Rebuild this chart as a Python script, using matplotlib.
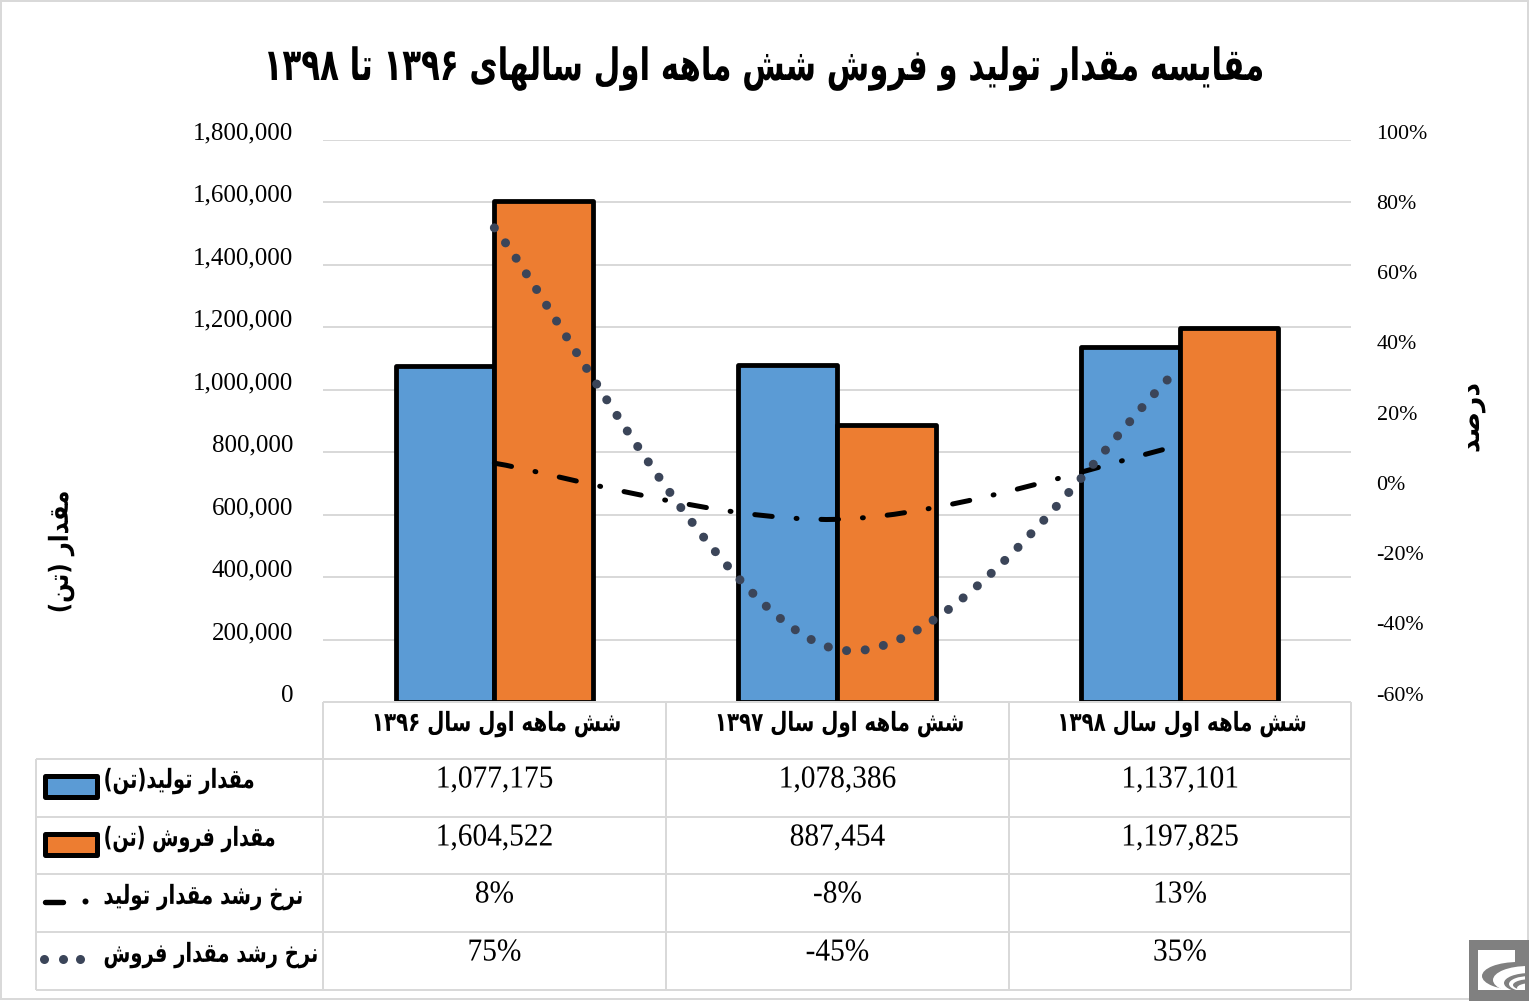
import math
import matplotlib
matplotlib.use("Agg")
import matplotlib.pyplot as plt
from matplotlib.path import Path
from matplotlib.patches import PathPatch, Rectangle, Ellipse
from matplotlib.patheffects import AbstractPathEffect
from matplotlib.transforms import ScaledTranslation, Affine2D

plt.rcParams['lines.scale_dashes'] = False
AR_FONT = ['DejaVu Sans']
NUM_FONT = ['Liberation Serif']

# ---------- data ----------
title = "مقایسه مقدار تولید و فروش شش ماهه اول سالهای ۱۳۹۶ تا ۱۳۹۸"
categories = ["شش ماهه اول سال ۱۳۹۶", "شش ماهه اول سال ۱۳۹۷", "شش ماهه اول سال ۱۳۹۸"]
production = [1077175, 1078386, 1137101]
sales = [1604522, 887454, 1197825]
production_growth = [8, -8, 13]
sales_growth = [75, -45, 35]
series_names = ["مقدار تولید(تن)", "مقدار فروش (تن)", "نرخ رشد مقدار تولید", "نرخ رشد مقدار فروش"]
left_label = "مقدار (تن)"
right_label = "درصد"
left_ticks = [0, 200000, 400000, 600000, 800000, 1000000, 1200000, 1400000, 1600000, 1800000]
right_ticks = [-60, -40, -20, 0, 20, 40, 60, 80, 100]

# ---------- minimal Persian shaping (matplotlib draws no contextual forms) ----------
FORMS = {  # isolated, final, initial, medial
    'ا': 'ﺍﺎ', 'د': 'ﺩﺪ', 'ر': 'ﺭﺮ', 'و': 'ﻭﻮ',
    'م': 'ﻡﻢﻣﻤ', 'ق': 'ﻕﻖﻗﻘ', 'ت': 'ﺕﺖﺗﺘ', 'ل': 'ﻝﻞﻟﻠ',
    'ی': '\uFBFC\uFBFD\uFBFE\uFBFF', 'ف': 'ﻑﻒﻓﻔ', 'ش': 'ﺵﺶﺷﺸ', 'ه': 'ﻩﻪﻫﻬ',
    'س': 'ﺱﺲﺳﺴ', 'ن': 'ﻥﻦﻧﻨ', 'خ': 'ﺥﺦﺧﺨ', 'ص': 'ﺹﺺﺻﺼ',
}
MIRROR = {'(': ')', ')': '('}
DIGITS = set('۰۱۲۳۴۵۶۷۸۹')


def shape(s):
    out = []
    for i, c in enumerate(s):
        if c not in FORMS:
            out.append(c)
            continue
        prev = s[i - 1] if i else ''
        nxt = s[i + 1] if i + 1 < len(s) else ''
        joins_prev = prev in FORMS and len(FORMS[prev]) == 4
        joins_next = nxt in FORMS and len(FORMS[c]) == 4
        f = FORMS[c]
        if joins_prev and joins_next:
            out.append(f[3])
        elif joins_prev:
            out.append(f[1])
        elif joins_next:
            out.append(f[2])
        else:
            out.append(f[0])
    # visual order: reverse everything, keep digit runs left to right
    runs, cur = [], ''
    for c in out:
        if c in DIGITS:
            cur += c
        else:
            if cur:
                runs.append(cur)
                cur = ''
            runs.append(MIRROR.get(c, c))
    if cur:
        runs.append(cur)
    return ''.join(reversed(runs))


class Condense(AbstractPathEffect):
    """Narrow the drawn glyphs along the text baseline (the reference face is condensed)."""

    def __init__(self, factor=None, width=None, anchor='center'):
        super().__init__()
        self.factor, self.width, self.anchor = factor, width, anchor

    def draw_path(self, renderer, gc, tpath, affine, rgbFace=None):
        ext = tpath.get_extents()
        m = affine.get_matrix()
        scale = math.hypot(m[0, 0], m[1, 0])
        sx = self.factor if self.factor else self.width / (ext.width * scale)
        a = ext.x0 if self.anchor == 'left' else (ext.x0 + ext.x1) / 2
        t = Affine2D().translate(-a, 0).scale(sx, 1).translate(a, 0) + affine
        renderer.draw_path(gc, tpath, t, rgbFace)


W, H = 1529, 1001
fig = plt.figure(figsize=(W / 100, H / 100), dpi=100, facecolor='white')
PX = 72 / 100  # points per pixel

L, R, T, B = 323, 1351, 140, 702
GRID = '#D9D9D9'
ax = fig.add_axes([L / W, 1 - B / H, (R - L) / W, (B - T) / H])
ax2 = ax.twinx()
ax2.set_zorder(ax.get_zorder() + 1)
ax2.patch.set_visible(False)

x = list(range(len(categories)))
bw = 0.2875
ax.bar([i - bw / 2 for i in x], production, bw, color='#5B9BD5', edgecolor='black',
       linewidth=4.8 * PX, joinstyle='round', zorder=3)
ax.bar([i + bw / 2 for i in x], sales, bw, color='#ED7D31', edgecolor='black',
       linewidth=4.8 * PX, joinstyle='round', zorder=3)
ax.set_xlim(-0.5, 2.5)
ax.set_ylim(0, 1800000)
ax.set_xticks([])
ax.set_yticks(left_ticks)
ax.set_yticklabels([f"{v:,}" for v in left_ticks], family=NUM_FONT, fontsize=18)
ax.tick_params(axis='y', length=0, pad=30 * PX)
ax.grid(axis='y', color=GRID, linewidth=2 * PX, zorder=0)
ax.set_axisbelow(True)

ax2.set_ylim(-60, 100)
ax2.set_yticks(right_ticks)
ax2.set_yticklabels([f"{v}%" for v in right_ticks], family=NUM_FONT, fontsize=15.8)
ax2.tick_params(axis='y', length=0, pad=25.5 * PX)
for a in (ax, ax2):
    for sp in a.spines.values():
        sp.set_visible(False)
up = ScaledTranslation(0, 9 / 100, fig.dpi_scale_trans)
up2 = ScaledTranslation(0, 8.3 / 100, fig.dpi_scale_trans)
for lab in ax.get_yticklabels():
    lab.set_transform(lab.get_transform() + up)
for lab in ax2.get_yticklabels():
    lab.set_transform(lab.get_transform() + up2)


def smooth_path(xs, ys):
    """Spreadsheet-style smoothed line through the data points."""
    verts = [(xs[0], ys[0])]
    codes = [Path.MOVETO]
    n = len(xs)
    for i in range(n - 1):
        a = max(i - 1, 0)
        b = min(i + 2, n - 1)
        verts.append((xs[i] + (xs[i + 1] - xs[a]) / 6, ys[i] + (ys[i + 1] - ys[a]) / 6))
        verts.append((xs[i + 1] - (xs[b] - xs[i]) / 6, ys[i + 1] - (ys[b] - ys[i]) / 6))
        verts.append((xs[i + 1], ys[i + 1]))
        codes += [Path.CURVE4] * 3
    return Path(verts, codes)


DASHDOT = (0, (17.5 * PX, 24.0 * PX, 0.9 * PX, 24.0 * PX))
DOTS = (0, (0.1 * PX, 18.58 * PX))
DOT_COLOR = '#3B4559'
ax2.add_patch(PathPatch(smooth_path(x, production_growth), fill=False, edgecolor='black',
                        linewidth=5 * PX, linestyle=DASHDOT, capstyle='round', zorder=5))
ax2.add_patch(PathPatch(smooth_path(x, sales_growth), fill=False, edgecolor=DOT_COLOR,
                        linewidth=9 * PX, linestyle=DOTS, capstyle='round', zorder=6))

# ---------- overlay in pixel coordinates: title, table, legend keys, logo ----------
ov = fig.add_axes([0, 0, 1, 1], facecolor='none')
ov.set_xlim(0, W)
ov.set_ylim(H, 0)
ov.axis('off')
ov.set_zorder(10)


def ar(px, py, s, size, width, ha='center', **kw):
    t = ov.text(px, py, shape(s), fontsize=size, ha=ha, va='center', family=AR_FONT,
                fontweight='bold', **kw)
    t.set_path_effects([Condense(width=width, anchor=ha)])


ov.add_patch(Rectangle((1, 1), W - 2, H - 3, fill=False, edgecolor=GRID, linewidth=2 * PX))

ar(765, 69, title, 32, 994)
ar(61, 552, left_label, 19, 119, rotation=90)
ar(1472, 418, right_label, 19, 67, rotation=90)

col_x = [L, 666, 1009, R]
row_y = [B, 759, 817, 874, 932, 990]
LEFT = 36
for i, yy in enumerate(row_y):
    ov.plot([L if i == 0 else LEFT, R], [yy, yy], color=GRID, lw=2 * PX, solid_capstyle='butt')
for xx in col_x:
    ov.plot([xx, xx], [B, row_y[-1]], color=GRID, lw=2 * PX, solid_capstyle='butt')
ov.plot([LEFT, LEFT], [row_y[1], row_y[-1]], color=GRID, lw=2 * PX, solid_capstyle='butt')

centers = [(col_x[i] + col_x[i + 1]) / 2 for i in range(3)]
for c, name in zip(centers, categories):
    ar(c + 2, 724, name, 19, 245)
rows = [[f"{v:,}" for v in production], [f"{v:,}" for v in sales],
        [f"{v}%" for v in production_growth], [f"{v}%" for v in sales_growth]]
text_y = [780, 838, 895, 953]
for row, ty in zip(rows, text_y):
    for c, s in zip(centers, row):
        t = ov.text(c, ty, s, fontsize=23, ha='center', va='center', family=NUM_FONT)
        t.set_path_effects([Condense(factor=0.92)])

legend_y = [781, 839, 897, 955]
legend_w = [148, 169, 197, 212]
for name, ly, lw_ in zip(series_names, legend_y, legend_w):
    ar(103, ly, name, 19, lw_, ha='left')

ov.add_patch(Rectangle((44.9, 775.5), 52, 21, facecolor='#5B9BD5', edgecolor='black',
                       linewidth=5 * PX, joinstyle='round'))
ov.add_patch(Rectangle((44.9, 833.5), 52, 21, facecolor='#ED7D31', edgecolor='black',
                       linewidth=5 * PX, joinstyle='round'))
ov.plot([45, 63], [902, 902], color='black', lw=5.4 * PX, solid_capstyle='round')
ov.plot([85], [901], 'o', color='black', ms=6 * PX, mew=0)
ov.plot([44, 62.5, 80], [959, 959, 959], 'o', color=DOT_COLOR, ms=9 * PX, mew=0)

# logo
LOGO = '#808080'
ov.add_patch(Rectangle((1469, 940), 60, 61, facecolor=LOGO, edgecolor='none'))
ov.add_patch(Rectangle((1478, 950), 37, 40, facecolor='white', edgecolor='none'))
for (cx, cy, rx, ry, col) in [(1518, 976, 36, 14, LOGO), (1528, 980, 35, 14, 'white'),
                              (1530, 983, 26, 10, LOGO), (1530, 984, 21, 8, 'white'),
                              (1532, 985, 19, 6, LOGO), (1532, 988, 15, 5, 'white')]:
    ov.add_patch(Ellipse((cx, cy), 2 * rx, 2 * ry, facecolor=col, edgecolor='none'))
ov.add_patch(Rectangle((1525, 940), 4, 61, facecolor=LOGO, edgecolor='none'))
ov.add_patch(Rectangle((1469, 990), 60, 11, facecolor=LOGO, edgecolor='none'))

fig.savefig('out.png', dpi=100, facecolor='white')
